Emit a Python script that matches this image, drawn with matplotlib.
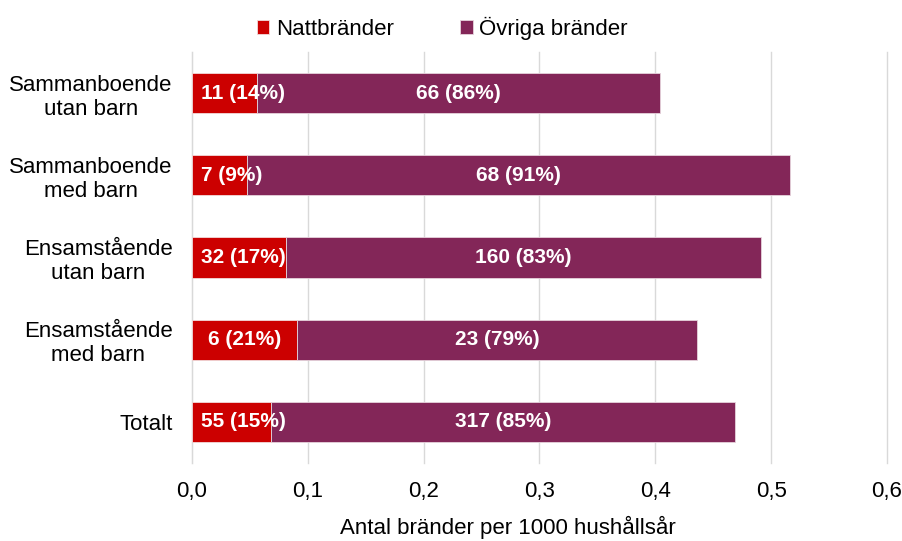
import matplotlib.pyplot as plt
import matplotlib.transforms as mtransforms
import numpy as np

plt.rcParams['font.family'] = ['Liberation Sans', 'DejaVu Sans']

# data
kategorier = ['Sammanboende\nutan barn', 'Sammanboende\nmed barn',
              'Ensamstående\nutan barn', 'Ensamstående\nmed barn', 'Totalt']
natt = [0.0565, 0.0475, 0.081, 0.091, 0.0686]
totalt = [0.404, 0.516, 0.491, 0.436, 0.469]
natt_antal = [11, 7, 32, 6, 55]
natt_pct = [14, 9, 17, 21, 15]
ovriga_antal = [66, 68, 160, 23, 317]
ovriga_pct = [86, 91, 83, 79, 85]

ovriga = [t - n for t, n in zip(totalt, natt)]

rod = '#CC0000'
lila = '#832658'

fig = plt.figure(figsize=(9.03, 5.41), dpi=100)
ax = fig.add_axes([0.2126, 0.1442, 0.7697, 0.7597])

y = np.arange(len(kategorier))
ax.barh(y, natt, height=0.49, color=rod, edgecolor='#f2dada', linewidth=0.6,
        label='Nattbränder', zorder=3)
ax.barh(y, ovriga, left=natt, height=0.49, color=lila, edgecolor='#e6d3dc',
        linewidth=0.6, label='Övriga bränder', zorder=3)

ax.set_xlim(0, 0.6)
ax.set_ylim(len(kategorier) - 0.5, -0.5)
ax.set_xticks(np.arange(0, 0.61, 0.1))
ax.set_xticklabels([f'{v:.1f}'.replace('.', ',') for v in np.arange(0, 0.61, 0.1)])
ax.set_yticks(y)
ax.set_yticklabels(kategorier, multialignment='center')
ax.tick_params(axis='both', length=0, labelsize=16, colors='black')
ax.tick_params(axis='y', pad=14)
ax.tick_params(axis='x', pad=13)
ax.grid(axis='x', color='#d9d9d9', linewidth=1, zorder=0)
for line in ax.get_xgridlines():
    line.set_clip_on(False)
for s in ['top', 'right', 'bottom']:
    ax.spines[s].set_visible(False)
ax.spines['left'].set_color('#d9d9d9')

fig.text(0.562, 0.004, 'Antal bränder per 1000 hushållsår', ha='center',
         va='bottom', fontsize=16)

# etiketter
fig.canvas.draw()
r = fig.canvas.get_renderer()
for i in range(len(kategorier)):
    t = ax.text(natt[i] / 2, i, f'{natt_antal[i]} ({natt_pct[i]}%)', ha='center',
                va='center', color='white', fontsize=15, fontweight='bold', zorder=5)
    bb = t.get_window_extent(renderer=r)
    x0 = ax.transData.transform((0, 0))[0]
    if bb.x0 < x0 + 9:
        t.set_x(0)
        t.set_ha('left')
        t.set_transform(ax.transData + mtransforms.ScaledTranslation(
            9 / 100, 0, fig.dpi_scale_trans))
    ax.text(natt[i] + ovriga[i] / 2, i, f'{ovriga_antal[i]} ({ovriga_pct[i]}%)',
            ha='center', va='center', color='white', fontsize=15,
            fontweight='bold', zorder=5)

fig.legend(loc='center', bbox_to_anchor=(0.49, 0.948), ncol=2, frameon=False,
           fontsize=16, handlelength=0.55, handleheight=0.55, handletextpad=0.3,
           columnspacing=3.0)

fig.savefig('out.png', dpi=100)
